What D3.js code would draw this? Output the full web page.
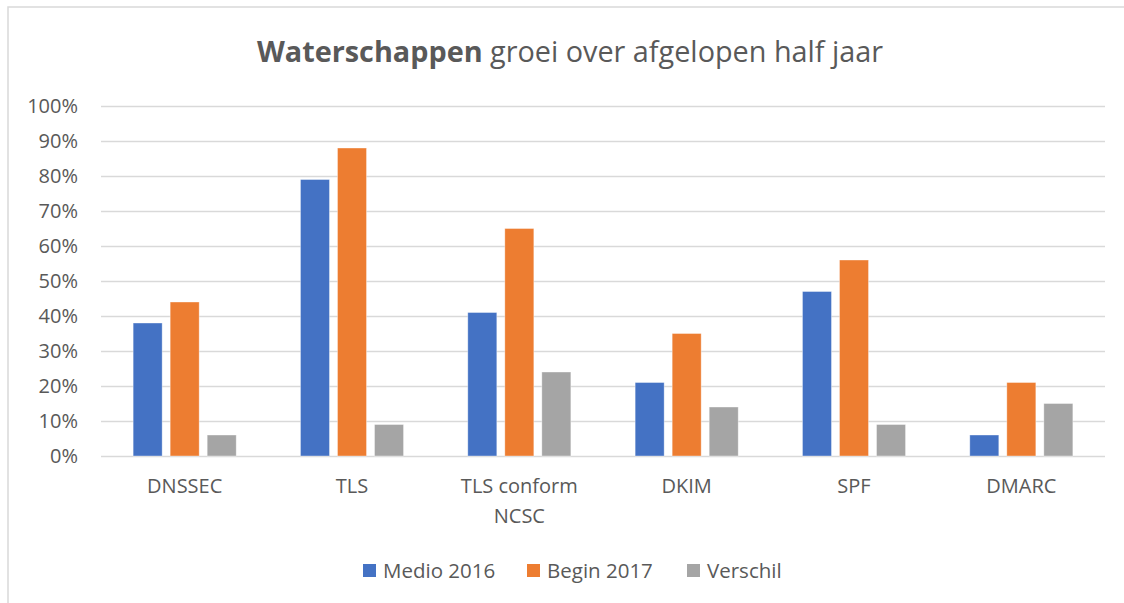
<!DOCTYPE html>
<html>
<head>
<meta charset="utf-8">
<script src="https://cdn.jsdelivr.net/npm/d3@7"></script>
<style>
  body { margin: 0; background: #fff; }
  svg { display: block; font-family: "Open Sans", sans-serif; }
</style>
</head>
<body>
<svg id="chart" width="1124" height="603"></svg>
<script>
// chart data
const categories = ["DNSSEC", "TLS", "TLS conform NCSC", "DKIM", "SPF", "DMARC"];
const categoryLines = [["DNSSEC"], ["TLS"], ["TLS conform", "NCSC"], ["DKIM"], ["SPF"], ["DMARC"]];
const seriesNames = ["Medio 2016", "Begin 2017", "Verschil"];
const medio2016 = [0.38, 0.79, 0.41, 0.21, 0.47, 0.06];
const begin2017 = [0.44, 0.88, 0.65, 0.35, 0.56, 0.21];
const verschil = [0.06, 0.09, 0.24, 0.14, 0.09, 0.15];
const yTicks = [0, 0.1, 0.2, 0.3, 0.4, 0.5, 0.6, 0.7, 0.8, 0.9, 1.0];

const colors = ["#4472C4", "#ED7D31", "#A5A5A5"];
const textColor = "#595959";
const gridColor = "#D9D9D9";

const svg = d3.select("#chart");
const plotLeft = 101, plotRight = 1105, plotTop = 106, plotBottom = 456;

// chart frame (cut off on the right and bottom like the source)
svg.append("path")
  .attr("d", "M8,603 V7 H1124")
  .attr("fill", "none")
  .attr("stroke", gridColor)
  .attr("stroke-width", 1.5);

// title
let title = svg.append("text")
  .attr("x", 570)
  .attr("y", 62)
  .attr("text-anchor", "middle")
  .attr("fill", textColor)
  .style("font-size", "28.8px");
title.append("tspan").attr("font-weight", "bold").text("Waterschappen");
title.append("tspan").text(" groei over afgelopen half jaar");

let x0 = d3.scaleBand()
  .domain(categories)
  .range([plotLeft, plotRight])
  .paddingInner(0.384)
  .paddingOuter(0.192);

let x1 = d3.scaleBand()
  .domain(seriesNames)
  .range([0, x0.bandwidth()])
  .paddingInner(0.216);

let y = d3.scaleLinear()
  .domain([0, 1])
  .range([plotBottom, plotTop]);

// y axis + gridlines
let yAxis = d3.axisLeft(y)
  .tickValues(yTicks)
  .tickFormat(d3.format(".0%"))
  .tickSize(-(plotRight - plotLeft))
  .tickPadding(23);

let yg = svg.append("g")
  .attr("transform", `translate(${plotLeft},0)`)
  .call(yAxis);
yg.select(".domain").remove();
yg.selectAll(".tick line").attr("stroke", gridColor).attr("stroke-width", 1.5);
yg.selectAll(".tick text")
  .attr("fill", textColor)
  .style("font-size", "20px")
  .style("font-family", "'Open Sans', sans-serif");

// bars
let series = [medio2016, begin2017, verschil];
let groups = svg.append("g").selectAll("g")
  .data(seriesNames)
  .enter()
  .append("g")
  .attr("fill", function(d, i) { return colors[i]; });

groups.selectAll("rect")
  .data(function(name, i) {
    return categories.map(function(c, j) { return { cat: c, name: name, value: series[i][j] }; });
  })
  .enter()
  .append("rect")
  .attr("x", function(d) { return x0(d.cat) + x1(d.name); })
  .attr("y", function(d) { return y(d.value); })
  .attr("width", x1.bandwidth())
  .attr("height", function(d) { return y(0) - y(d.value); })
  .attr("stroke", "#fff")
  .attr("stroke-opacity", 0.5)
  .attr("stroke-width", 0.75);

// x axis labels
let xAxis = d3.axisBottom(x0).tickSize(0).tickFormat("");
let xg = svg.append("g")
  .attr("transform", `translate(0,${plotBottom})`)
  .call(xAxis);
xg.select(".domain").remove();
xg.selectAll(".tick").each(function(d, i) {
  let t = d3.select(this).append("text")
    .attr("fill", textColor)
    .attr("text-anchor", "middle")
    .style("font-size", "20px")
    .style("font-family", "'Open Sans', sans-serif");
  categoryLines[i].forEach(function(line, k) {
    t.append("tspan").attr("x", 0).attr("y", 37 + k * 30).text(line);
  });
});

// legend
let legendX = [363, 527, 687];
let legend = svg.append("g").selectAll("g")
  .data(seriesNames)
  .enter()
  .append("g")
  .attr("transform", function(d, i) { return `translate(${legendX[i]},564)`; });

legend.append("rect")
  .attr("width", 13)
  .attr("height", 13)
  .attr("fill", function(d, i) { return colors[i]; });

legend.append("text")
  .attr("x", 20)
  .attr("y", 13.5)
  .attr("fill", textColor)
  .style("font-size", "20.5px")
  .text(function(d) { return d; });
</script>
</body>
</html>
